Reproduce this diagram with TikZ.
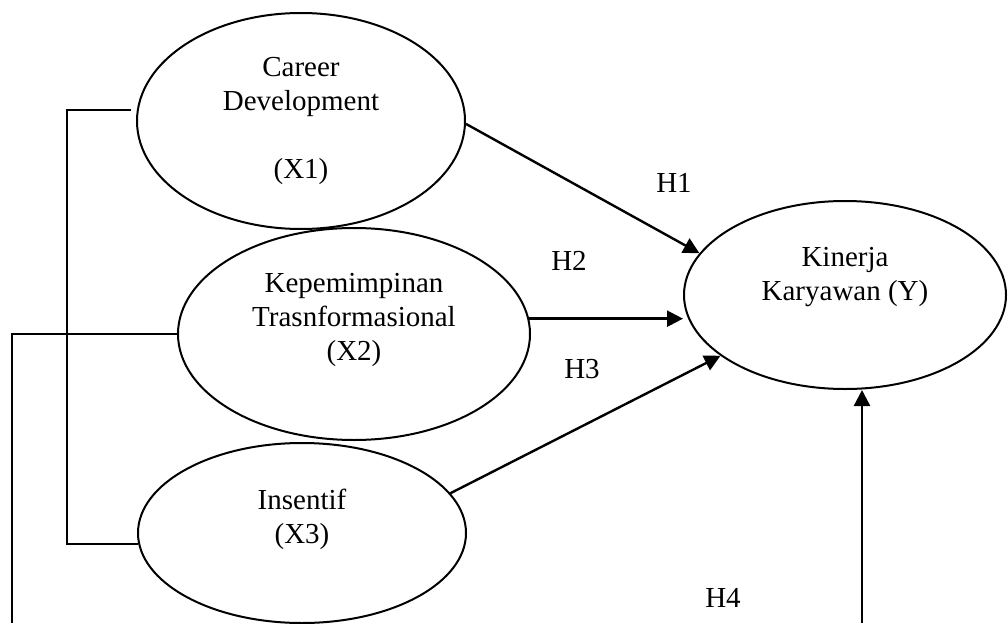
\documentclass[tikz,border=0pt]{standalone}
\usepackage{fontspec}
\setmainfont{Liberation Serif}
\usetikzlibrary{shapes.geometric,arrows.meta}

\tikzset{
  var/.style={draw, ellipse, line width=2pt, inner sep=0pt, align=center,
    font=\fontsize{29}{34}\selectfont},
  hyp/.style={anchor=base, inner sep=0pt, font=\fontsize{29}{34}\selectfont},
  arr/.style={line width=2.4pt, -{Triangle[length=16pt,width=16pt]}},
  conn/.style={line width=2pt}
}

\begin{document}
\begin{tikzpicture}[x=1pt, y=-1pt]
\useasboundingbox (0,0) rectangle (1008,623);

\node[var, minimum width=328pt, minimum height=216pt] (x1) at (301,121) {Career\\Development\\~\\(X1)};
\node[var, minimum width=352pt, minimum height=212pt] (x2) at (354,334) {Kepemimpinan\\Trasnformasional\\(X2)\\~};
\node[var, minimum width=328pt, minimum height=180pt] (x3) at (302,533) {Insentif\\(X3)\\~};
\node[var, minimum width=322pt, minimum height=188pt] (ky) at (845,295) {Kinerja\\Karyawan (Y)\\[8pt]~};


\draw[arr] (x1.-1) -- (ky.164);
\draw[arr] (x2.5) -- (x2.5 -| ky.west);
\draw[arr] (x3.15) -- (ky.206);

\coordinate (h4foot) at (862,623);
\draw[arr] (h4foot) -- (h4foot |- ky.south);


\coordinate (tr1) at (67,0);
\coordinate (tr2) at (12,623);
\draw[conn] ([xshift=-6pt]x1.176) -| (x3.184 -| tr1) -- (x3.184);
\draw[conn] (x2.west) -| (tr2);


\node[hyp] (h1) at (674,192) {H1};
\node[hyp] (h2) at (569,270) {H2};
\node[hyp] (h3) at (582,378) {H3};
\node[hyp] (h4) at (723,607) {H4};

\end{tikzpicture}
\end{document}
